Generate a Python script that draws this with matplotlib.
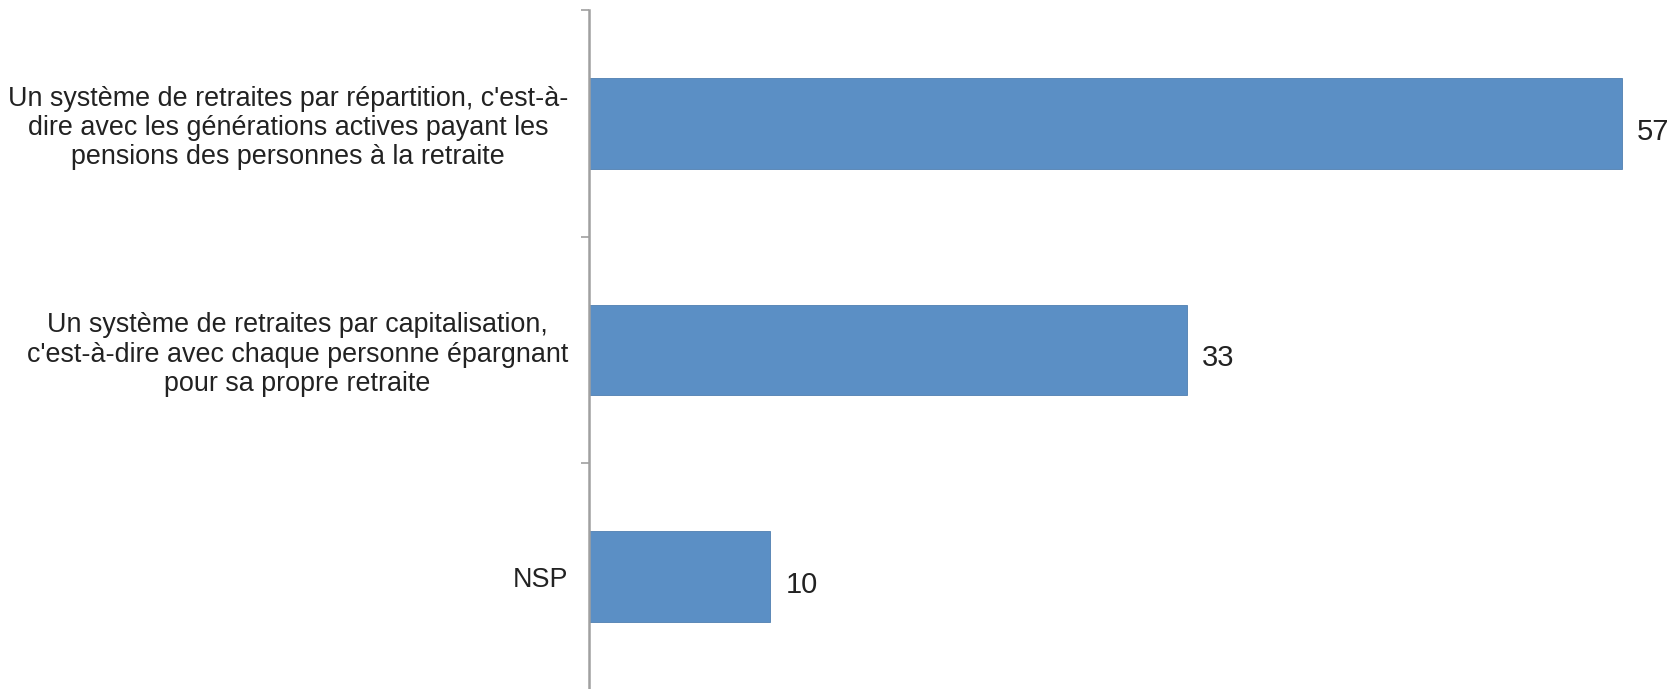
import matplotlib
matplotlib.use("Agg")
import matplotlib.pyplot as plt

categories = [
    "Un système de retraites par répartition, c'est-à-\ndire avec les générations actives payant les\npensions des personnes à la retraite",
    "Un système de retraites par capitalisation,\nc'est-à-dire avec chaque personne épargnant\npour sa propre retraite",
    "NSP",
]
values = [57, 33, 10]

plt.rcParams['font.family'] = ['Liberation Sans', 'DejaVu Sans']

W, H = 1675, 689
fig = plt.figure(figsize=(W / 100, H / 100), dpi=100)
left_px, top_px, bottom_px = 589, 10, 690
px_per_unit = (1622 - left_px) / 57
ax = fig.add_axes([left_px / W, 1 - bottom_px / H, (W - left_px) / W, (bottom_px - top_px) / H])
ax.set_xlim(0, (W - left_px) / px_per_unit)

pos = list(range(len(categories)))
bars = ax.barh(pos, values, height=0.4, color='#5B8FC5', edgecolor='#4F7FB0', linewidth=0.6)
ax.set_ylim(len(categories) - 0.5, -0.5)

for b, v in zip(bars, values):
    ax.annotate(str(v), (b.get_width(), b.get_y() + b.get_height() / 2),
                xytext=(11, -6), textcoords='offset points', ha='left', va='center',
                fontsize=21, color='#222222', clip_on=False)

ax.set_yticks(pos)
ax.set_yticklabels(categories, fontsize=19.4, multialignment='center', color='#222222', linespacing=1.17)
ax.set_yticks([p + 0.5 for p in [-1] + pos], minor=True)
ax.tick_params(axis='y', which='major', length=0, pad=15)
ax.tick_params(axis='y', which='minor', length=6, width=1.2, color='#A0A0A0')
ax.set_xticks([])
for s in ['top', 'right', 'bottom']:
    ax.spines[s].set_visible(False)
ax.spines['left'].set_color('#A0A0A0')
ax.spines['left'].set_linewidth(1.8)

fig.savefig('out.png', dpi=100)
